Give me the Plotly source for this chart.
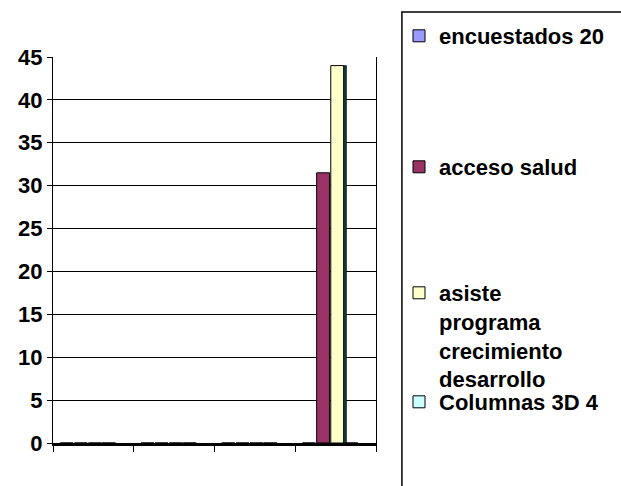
import plotly.graph_objects as go

categories = ["1", "2", "3", "4"]
series_names = ["encuestados 20", "acceso salud",
                "asiste<br>programa<br>crecimiento<br>desarrollo", "Columnas 3D 4"]
encuestados = [0, 0, 0, 0]
acceso_salud = [0, 0, 0, 31.5]
asiste_programa = [0, 0, 0, 44]
columnas_3d = [0, 0, 0, 0]
y_ticks = [0, 5, 10, 15, 20, 25, 30, 35, 40, 45]

colors = ["#9999FF", "#993366", "#FFFFCC", "#CCFFFF"]
values = [encuestados, acceso_salud, asiste_programa, columnas_3d]
offsets = [-0.41, -0.235, -0.06, 0.115]
bw = 0.16
legend_ids = ["legend", "legend2", "legend3", "legend4"]

FONT = "Liberation Sans, Arial, sans-serif"
fig = go.Figure()
for name, vals, col, off, lg in zip(series_names, values, colors, offsets, legend_ids):
    fig.add_trace(go.Bar(x=categories, y=vals, name=name, marker_color=col,
                         marker_line=dict(color="black", width=1),
                         width=bw, offset=off, legend=lg))
# dark side face of the 3D yellow column
fig.add_trace(go.Bar(x=categories, y=asiste_programa, marker_color="#0B3B3B",
                     marker_line=dict(color="black", width=0.5),
                     width=0.035, offset=-0.06 + bw, showlegend=False))

L, R, T, B = 53, 244, 57, 43
H = 486 - T - B
W = 621 - L - R
def py(p):
    return (486 - B - p) / H
def px(p):
    return (p - L) / W

legend_common = dict(font=dict(family=FONT, size=22, color="black", weight="bold"),
                     bgcolor="rgba(0,0,0,0)", borderwidth=0,
                     xanchor="left", yanchor="top", valign="top",
                     itemwidth=30, tracegroupgap=0)
lx = px(399)
fig.update_layout(
    width=621, height=486,
    margin=dict(l=L, r=R, t=T, b=B),
    paper_bgcolor="white", plot_bgcolor="white",
    barmode="group",
    font=dict(family=FONT, size=22, color="black"),
    legend=dict(**legend_common, x=lx, y=py(15)),
    legend2=dict(**legend_common, x=lx, y=py(146)),
    legend3=dict(**legend_common, x=lx, y=py(272)),
    legend4=dict(**legend_common, x=lx, y=py(381)),
    xaxis=dict(type="category", categoryorder="array", categoryarray=categories,
               showticklabels=False, ticks="outside", tickson="boundaries",
               ticklen=6, tickcolor="black", tickwidth=1,
               showline=True, linecolor="black", linewidth=3, showgrid=False),
    yaxis=dict(range=[0, 45], tickvals=y_ticks, ticks="outside", ticklen=5,
               tickcolor="black", showline=True, linecolor="black", linewidth=1,
               mirror=True, showgrid=True, gridcolor="black", gridwidth=1,
               zeroline=False,
               tickfont=dict(family=FONT, size=22, color="black", weight="bold")),
    shapes=[dict(type="rect", xref="paper", yref="paper",
                 x0=px(403), x1=px(700), y0=py(560), y1=py(12),
                 line=dict(color="black", width=1.5), fillcolor="rgba(0,0,0,0)",
                 layer="above")],
)

fig.write_html("out.html")
